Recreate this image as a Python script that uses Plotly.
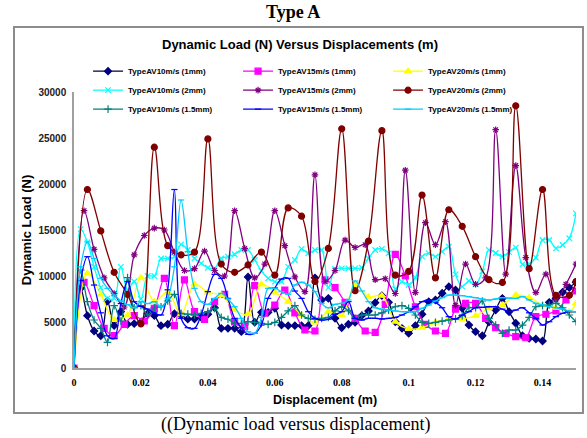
import plotly.graph_objects as go

# ---------------- data ----------------
disp_002 = [round(0.002 * i, 3) for i in range(76)]
disp_003 = [round(0.003 * i, 3) for i in range(51)]
disp_004 = [round(0.004 * i, 3) for i in range(38)] + [0.15]

av10_1mm = [0, 8660, 5690, 4020, 3510, 7280, 4600, 6120, 4750, 4820, 4970, 5900, 5690, 4600, 4750, 5900,
            5760, 5330, 5330, 5500, 5840, 6550, 4310, 4310, 4310, 3950, 9890, 4970, 6050, 6050, 6500, 4670,
            4600, 4600, 4600, 4600, 9800, 7390, 7570, 5400, 4380, 4750, 4970, 5690, 6200, 7100, 7860, 7140,
            5030, 4310, 3770, 4600, 5840, 7210, 7390, 8120, 8840, 8480, 6500, 4670, 3950, 3510, 5000, 6300,
            7570, 6120, 4860, 3510, 3220, 3150, 2930, 7140, 7570, 8230, 8730, 9320]
av15_1mm = [0, 9320, 6770, 4310, 3510, 4750, 5690, 5110, 6490, 9750, 4600, 9570, 6120, 5290, 7210, 8010,
            5000, 4490, 8950, 5950, 6850, 8480, 6000, 4130, 4020, 9570, 8730, 7140, 5400, 4020, 3880, 6920,
            12360, 10000, 6660, 4750, 4020, 3770, 6410, 7030, 7030, 5400, 4380, 3770, 3400, 3290, 5580, 5840,
            6200, 7390, 8370]
av20_1mm = [0, 10300, 8010, 5220, 5760, 9820, 7210, 8230, 5840, 9100, 8230, 7930, 6300, 5840, 9100, 8230,
            7210, 5760, 4970, 6120, 5760, 9020, 7750, 7860, 5030, 4240, 4380, 4970, 5330, 5330, 5690, 6500,
            6850, 7930, 7640, 6850, 6550, 6120, 7030]
av10_2mm = [0, 15100, 13660, 11000, 8730, 7570, 7570, 11000, 8500, 9400, 7500, 10000, 10000, 11900, 11900,
            12100, 13440, 12830, 11920, 11380, 10900, 10830, 11900, 12100, 12360, 12830, 12830, 11740, 10540,
            9750, 9380, 9380, 11000, 11740, 12940, 12460, 12830, 12830, 8730, 10760, 10830, 10830, 10830,
            10900, 11920, 12830, 12940, 12460, 8590, 9380, 9020, 9820, 12100, 12460, 12100, 12650, 13190,
            10180, 8840, 9460, 9100, 10500, 12830, 12500, 12100, 12600, 13080, 11270, 11300, 12000, 13910,
            13910, 13010, 13370, 14100, 16800]
av15_2mm = [0, 17100, 12900, 9800, 8100, 6630, 12300, 14400, 15200, 15000, 12600, 10600, 10800, 12700, 10600,
            10000, 17100, 13000, 9800, 11300, 17100, 13300, 9900, 8300, 21000, 9400, 10600, 13900, 13100,
            13400, 9600, 9700, 8100, 21500, 8200, 15800, 13400, 15900, 6800, 11300, 9100, 9800, 25900, 10200,
            22000, 12000, 8200, 10200, 7400, 9100, 11300]
av20_2mm = [0, 19400, 14900, 10400, 8000, 4800, 24000, 13300, 12300, 12600, 24900, 11300, 10400, 11200, 12600,
            10100, 17400, 16500, 9400, 13000, 26000, 8400, 13800, 25800, 10100, 10500, 18800, 9800, 17200,
            15400, 12100, 9600, 9300, 28500, 10800, 19400, 7900, 7900, 9400]
av10_15mm = [0, 10650, 7210, 5220, 4310, 2790, 6770, 5110, 9820, 6550, 6770, 5760, 6550, 6660, 7280, 8010,
             5950, 5850, 5760, 5950, 6120, 6490, 5500, 5300, 4860, 4860, 5030, 4970, 4860, 4750, 4970, 5500,
             6200, 6770, 5760, 5400, 5300, 5400, 5500, 6200, 6660, 6200, 5400, 5760, 5760, 5760, 6000, 6300,
             6660, 6770, 6490, 5760, 4970, 4860, 4970, 5100, 5220, 5330, 5690, 6550, 6550, 7280, 5400, 4670,
             3770, 4130, 4130, 4670, 5500, 6660, 6770, 6850, 7030, 6550, 5760, 5030]
av15_15mm = [0, 9500, 12100, 9020, 6000, 3500, 3200, 7000, 9400, 7200, 6700, 6400, 6000, 5760, 8500, 19400,
             5400, 4380, 4310, 5760, 8300, 10180, 9750, 7570, 5400, 4380, 3660, 3770, 4670, 7570, 8700, 9670,
             9750, 8370, 7570, 6120, 5400, 5220, 5300, 5840, 6120, 7210, 5400, 5220, 5400, 5400, 5330, 5400,
             5500, 5760, 6120, 6660, 7210, 7390, 7140, 6550, 5580, 5330, 5760, 6120, 6550, 6600, 6660, 6660,
             6400, 6120, 6300, 6550, 6000, 5400, 4670, 5030, 5580, 5950, 6120, 6120]
av20_15mm = [0, 11000, 13700, 11900, 9750, 8660, 7930, 7300, 6900, 6550, 7210, 7000, 7210, 6660, 7570, 11000,
             18260, 12650, 8660, 7210, 6920, 7570, 8120, 7500, 6660, 5400, 3950, 3770, 5500, 8660, 8660, 8300,
             8010, 9020, 9320, 9020, 8300, 7030, 6550, 6920, 7030, 7390, 9460, 8370, 7210, 6550, 6400, 6300,
             6200, 6120, 6120, 6120, 6490, 6850, 7280, 7640, 7930, 7930, 7860, 7750, 7640, 7500, 7390, 7500,
             7640, 7600, 7570, 7750, 7400, 7030, 6850, 6660, 6550, 6410, 6200, 6120]

names = ["TypeAV10m/s (1mm)", "TypeAV15m/s (1mm)", "TypeAV20m/s (1mm)",
         "TypeAV10m/s (2mm)", "TypeAV15m/s (2mm)", "TypeAV20m/s (2mm)",
         "TypeAV10m/s (1.5mm)", "TypeAV15m/s (1.5mm)", "TypeAV20m/s (1.5mm)"]
xs = [disp_002, disp_003, disp_004, disp_002, disp_003, disp_004, disp_002, disp_002, disp_002]
ys = [av10_1mm, av15_1mm, av20_1mm, av10_2mm, av15_2mm, av20_2mm, av10_15mm, av15_15mm, av20_15mm]

x_tick_vals = [0, 0.02, 0.04, 0.06, 0.08, 0.1, 0.12, 0.14]
x_tick_text = ["0", "0.02", "0.04", "0.06", "0.08", "0.1", "0.12", "0.14"]
y_tick_vals = [0, 5000, 10000, 15000, 20000, 25000, 30000]
y_tick_text = ["0", "5000", "10000", "15000", "20000", "25000", "30000"]

# ---------------- styles ----------------
line_colors = ["#000040", "#FF00FF", "#FFFF00", "#00FFFF", "#800080", "#800000", "#008080", "#0000FF", "#00CCFF"]
marker_colors = ["#000080", "#FF00FF", "#FFFF00", "#00FFFF", "#800080", "#800000", "#008080", "#0000FF", "#00CCFF"]
symbols = ["diamond", "square", "triangle-up", "x-thin-open", "asterisk-open", "circle",
           "cross-thin-open", "line-ew-open", "line-ew-open"]
sizes = [5.5, 6, 6, 5.5, 5.5, 6, 5.5, 4.5, 4.5]

fig = go.Figure()
for i in range(len(names)):
    fig.add_trace(go.Scatter(
        x=xs[i], y=ys[i], name=names[i], mode="lines+markers",
        line=dict(color=line_colors[i], width=1.3, shape="spline", smoothing=1),
        marker=dict(symbol=symbols[i], size=sizes[i], color=marker_colors[i],
                    line=dict(color=marker_colors[i], width=1.2)),
        cliponaxis=True,
    ))

SANS = "Liberation Sans, Arial, sans-serif"
SERIF = "Liberation Serif, Times New Roman, serif"

fig.update_layout(
    width=587, height=438,
    margin=dict(l=74, r=11, t=92, b=70),
    paper_bgcolor="white", plot_bgcolor="white",
    showlegend=True,
    legend=dict(orientation="h", x=0.028, y=1.128, xanchor="left", yanchor="top",
                entrywidth=105, entrywidthmode="pixels",
                font=dict(family=SANS, size=8, color="black", weight="bold"),
                bgcolor="rgba(0,0,0,0)", tracegroupgap=0),
    xaxis=dict(range=[0, 0.15], tickvals=x_tick_vals, ticktext=x_tick_text, automargin=False,
               showgrid=False, zeroline=False, showline=True, linecolor="#a0a0a0", linewidth=1.5,
               ticks="", ticklabelstandoff=4,
               tickfont=dict(family=SERIF, size=10, color="black", weight="bold"),
               title=dict(text="Displacement (m)", standoff=8,
                          font=dict(family=SANS, size=12.5, color="black", weight="bold"))),
    yaxis=dict(range=[0, 30000], tickvals=y_tick_vals, ticktext=y_tick_text, automargin=False,
               showgrid=False, zeroline=False, showline=True, linecolor="#a0a0a0", linewidth=1.5,
               ticks="", ticklabelstandoff=4,
               tickfont=dict(family=SANS, size=10, color="#222", weight="bold"),
               title=dict(text="Dynamic Load (N)", standoff=4,
                          font=dict(family=SANS, size=13, color="black", weight="bold"))),
    shapes=[dict(type="rect", xref="paper", yref="paper",
                 x0=-0.1195, x1=1.0139, y0=-0.163, y1=1.2355,
                 line=dict(color="#8c8c8c", width=2), fillcolor="rgba(0,0,0,0)", layer="below")],
    annotations=[
        dict(text="<b>Type A</b>", xref="paper", yref="paper", x=0.4363, y=1.2899,
             showarrow=False, xanchor="center", yanchor="middle",
             font=dict(family=SERIF, size=18, color="black")),
        dict(text="<b>Dynamic Load (N) Versus Displacements (m)</b>", xref="paper", yref="paper",
             x=0.4502, y=1.1739, showarrow=False, xanchor="center", yanchor="middle",
             font=dict(family=SANS, size=13, color="black")),
        dict(text="((Dynamic load versus displacement)", xref="paper", yref="paper",
             x=0.4422, y=-0.2065, showarrow=False, xanchor="center", yanchor="middle",
             font=dict(family=SERIF, size=18, color="black")),
    ],
)

fig.write_html("out.html", config={"displayModeBar": False},
               post_script="document.body.style.margin='0px';")
